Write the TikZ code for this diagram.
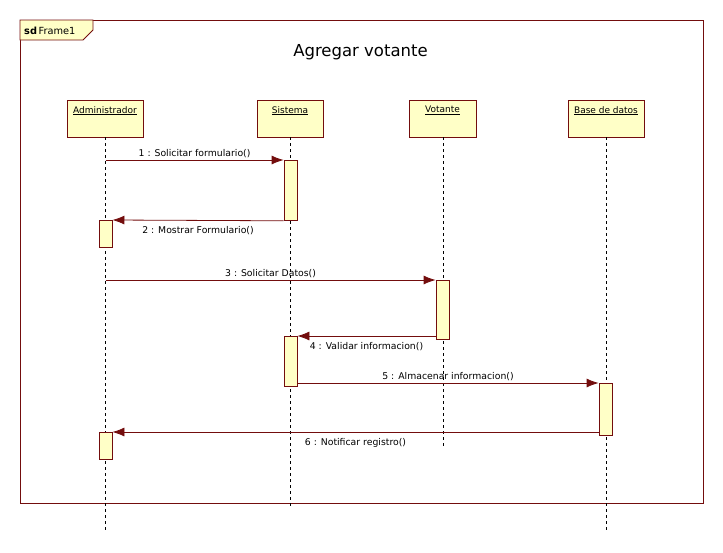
\documentclass[tikz,border=0pt]{standalone}
\usepackage{fontspec}
\setmainfont{DejaVu Sans}
\usepackage{xcolor}
\usetikzlibrary{positioning,arrows.meta}
\definecolor{umlline}{rgb}{0.45,0.05,0.05}
\definecolor{umlfill}{rgb}{1,1,0.78}

\begin{document}
\begin{tikzpicture}[x=1pt,y=-1pt]
    \useasboundingbox (0,0) rectangle (723,552);

    \tikzstyle{head}=[draw=umlline,fill=umlfill,line width=0.8pt,minimum height=37pt,inner sep=0pt]
    \tikzstyle{lbl}=[font=\fontsize{9}{11}\selectfont,inner sep=0pt]
    \tikzstyle{act}=[draw=umlline,fill=umlfill,line width=0.8pt,minimum width=13pt,inner sep=0pt,anchor=north]
    \tikzstyle{life}=[draw=black,dashed,dash pattern=on 3pt off 3pt,line width=0.6pt]
    \tikzstyle{msg}=[draw=umlline,line width=0.8pt,-{Latex[length=12pt,width=9pt]}]
    \tikzstyle{txt}=[font=\fontsize{9.3}{11}\selectfont,inner sep=2pt]

    % frame
    \draw[draw=umlline,line width=0.8pt] (20,20) rectangle (703,503);
    \draw[draw=umlline,fill=umlfill,line width=0.8pt] (20,20) -- (93,20) -- (93,30) -- (83,40) -- (20,40) -- cycle;
    \node[font=\fontsize{9.8}{12}\selectfont,inner sep=0pt,anchor=west] (sd) at (24,31) {\textbf{sd}\,Frame1};
    \node[font=\fontsize{16.5}{19}\selectfont] (title) at (360.5,52) {Agregar votante};

    % lifeline heads
    \node[head,minimum width=76pt] (adm) at (105,118.5) {};
    \node[head,minimum width=66pt] (sis) at (290,118.5) {};
    \node[head,minimum width=67pt] (vot) at (442.5,118.5) {};
    \node[head,minimum width=76pt] (bd)  at (606,118.5) {};
    \node[lbl,below=6.5pt of adm.north] (adm-t) {\underline{Administrador}};
    \node[lbl,below=6.5pt of sis.north] (sis-t) {\underline{Sistema}};
    \node[lbl,below=6.5pt of vot.north] (vot-t) {\underline{Votante}};
    \node[lbl,below=6.5pt of bd.north]  (bd-t)  {\underline{Base de datos}};

    \coordinate (adm-end) at (105.5,532);
    \coordinate (sis-end) at (290.5,508);
    \coordinate (vot-end) at (443,448);
    \coordinate (bd-end)  at (606,532);

    \draw[life] (adm.south -| adm-end) -- (adm-end);
    \draw[life] (sis.south -| sis-end) -- (sis-end);
    \draw[life] (vot.south -| vot-end) -- (vot-end);
    \draw[life] (bd.south -| bd-end) -- (bd-end);

    % activations
    \node[act,minimum height=60pt] (s1) at (290.5,160) {};
    \node[act,minimum height=27pt] (a1) at (105.5,220) {};
    \node[act,minimum height=59pt] (v1) at (442.5,280) {};
    \node[act,minimum height=50pt] (s2) at (290.5,336) {};
    \node[act,minimum height=52pt] (b1) at (605.5,383) {};
    \node[act,minimum height=27pt] (a2) at (105.5,432) {};

    % messages
    \draw[msg] (adm-end |- s1.north) -- node[txt,above] {1 : Solicitar formulario()} (s1.north west);
    \draw[msg] (s1.south west) -- node[txt,below,yshift=-4pt] {2 : Mostrar Formulario()} (a1.north east);
    \draw[msg] (adm-end |- v1.north) -- node[txt,above] {3 : Solicitar Datos()} (v1.north west);
    \draw[msg] (v1.west |- s2.north) -- node[txt,below,yshift=-4pt] {4 : Validar informacion()} (s2.north east);
    \draw[msg] (s2.east |- b1.north) -- node[txt,above] {5 : Almacenar informacion()} (b1.north west);
    \draw[msg] (b1.west |- a2.north) -- node[txt,below,yshift=-4pt] {6 : Notificar registro()} (a2.north east);

\end{tikzpicture}
\end{document}
